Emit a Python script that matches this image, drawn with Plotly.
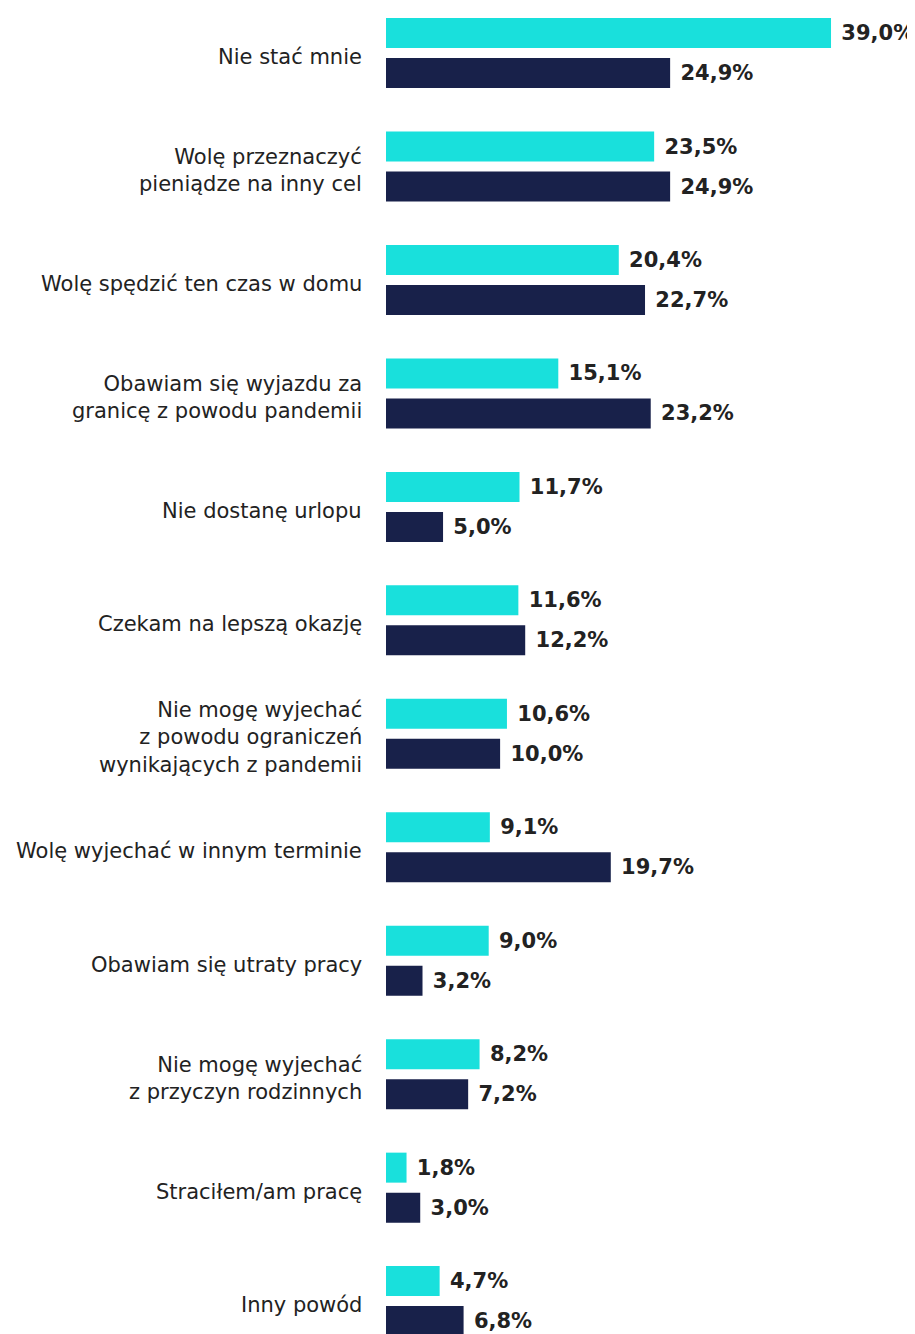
import plotly.graph_objects as go

categories = [
    "Nie stać mnie",
    "Wolę przeznaczyć<br>pieniądze na inny cel",
    "Wolę spędzić ten czas w domu",
    "Obawiam się wyjazdu za<br>granicę z powodu pandemii",
    "Nie dostanę urlopu",
    "Czekam na lepszą okazję",
    "Nie mogę wyjechać<br>z powodu ograniczeń<br>wynikających z pandemii",
    "Wolę wyjechać w innym terminie",
    "Obawiam się utraty pracy",
    "Nie mogę wyjechać<br>z przyczyn rodzinnych",
    "Straciłem/am pracę",
    "Inny powód",
]
series_a = [39.0, 23.5, 20.4, 15.1, 11.7, 11.6, 10.6, 9.1, 9.0, 8.2, 1.8, 4.7]
series_b = [24.9, 24.9, 22.7, 23.2, 5.0, 12.2, 10.0, 19.7, 3.2, 7.2, 3.0, 6.8]

def fmt(v):
    return " " + f"{v:.1f}".replace(".", ",") + "%"

CYAN = "#19E0DC"
NAVY = "#18214A"
TXT = "#222222"

fig = go.Figure()
for vals, col in [(series_a, CYAN), (series_b, NAVY)]:
    fig.add_trace(go.Bar(
        y=categories, x=vals, orientation="h",
        marker=dict(color=col, line=dict(width=0)),
        text=[fmt(v) for v in vals], textposition="outside",
        textfont=dict(family="DejaVu Sans", size=21, color=TXT, weight="bold"),
        constraintext="none", cliponaxis=False,
        hoverinfo="skip",
    ))

for cat in categories:
    fig.add_annotation(
        x=0, y=cat, xref="x", yref="y", text=cat, showarrow=False,
        xanchor="right", yanchor="middle", align="right",
        xshift=-22, yshift=-4,
        font=dict(family="DejaVu Sans", size=21, color=TXT),
    )

fig.update_layout(
    width=907, height=1326,
    margin=dict(l=378, r=0, t=0, b=0),
    paper_bgcolor="white", plot_bgcolor="white",
    barmode="group", bargap=0.295, bargroupgap=0.25,
    showlegend=False,
    font=dict(family="DejaVu Sans", size=21, color=TXT),
    xaxis=dict(range=[0, 46.36], visible=False, showgrid=False, zeroline=False),
    yaxis=dict(
        type="category", range=[11.29, -0.397],
        showgrid=False, zeroline=False, showline=False,
        showticklabels=False, ticks="",
    ),
)

fig.write_html("out.html")
